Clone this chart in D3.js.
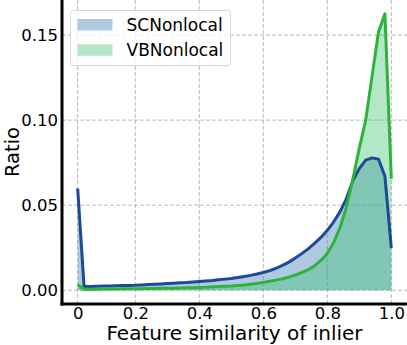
<!DOCTYPE html>
<html>
<head>
<meta charset="utf-8">
<script src="https://cdn.jsdelivr.net/npm/d3@7"></script>
<style>
  html, body { margin: 0; padding: 0; background: #fff; }
  svg { display: block; font-family: 'DejaVu Sans', sans-serif; }
</style>
</head>
<body>
<div id="chart"></div>
<script>
// 50 histogram bins, ticks sit on bin indices
const tickIndex = [0, 9, 19, 29, 39, 49]
const tickLabels = ['0', '0.2', '0.4', '0.6', '0.8', '1.0']
const yTicks = [0, 0.05, 0.10, 0.15]

const scNonlocal = [
  0.0598, 0.0021, 0.0022, 0.0023, 0.0024, 0.0025, 0.0026, 0.0027, 0.0028, 0.0029,
  0.0031, 0.0033, 0.0035, 0.0037, 0.0039, 0.0041, 0.0043, 0.0045, 0.0048, 0.0051,
  0.0054, 0.0057, 0.0061, 0.0065, 0.0069, 0.0074, 0.0080, 0.0087, 0.0095, 0.0104,
  0.0115, 0.0129, 0.0146, 0.0165, 0.0189, 0.0215, 0.0243, 0.0275, 0.0310, 0.0352,
  0.0402, 0.0462, 0.0540, 0.0645, 0.0715, 0.0765, 0.0778, 0.0770, 0.0670, 0.0248
]

const vbNonlocal = [
  0.0032, 0.0006, 0.0006, 0.0006, 0.0007, 0.0007, 0.0007, 0.0008, 0.0008, 0.0009,
  0.0009, 0.0010, 0.0010, 0.0011, 0.0011, 0.0012, 0.0013, 0.0014, 0.0015, 0.0016,
  0.0017, 0.0019, 0.0021, 0.0023, 0.0025, 0.0028, 0.0031, 0.0035, 0.0040, 0.0046,
  0.0052, 0.0059, 0.0067, 0.0077, 0.0089, 0.0104, 0.0120, 0.0143, 0.0175, 0.0215,
  0.0280, 0.0370, 0.0490, 0.0655, 0.0835, 0.1000, 0.1260, 0.1520, 0.1625, 0.0655
]

const series = [
  { name: 'SCNonlocal', values: scNonlocal, fill: '#3a76b2', line: '#1b4a9a' },
  { name: 'VBNonlocal', values: vbNonlocal, fill: '#3ec676', line: '#2eb33a' }
]

const width = 407
const height = 345
const margin = { left: 62, right: 0, top: 0, bottom: 41 }

const svg = d3.select('#chart').append('svg')
  .attr('width', width)
  .attr('height', height)

const n = scNonlocal.length
const xPad = (n - 1) * 0.05
const x = d3.scaleLinear()
  .domain([-xPad, n - 1 + xPad])
  .range([margin.left, width - margin.right])

const yMax = d3.max(series, s => d3.max(s.values))
const yPad = yMax * 0.05
const y = d3.scaleLinear()
  .domain([-yPad, yMax + yPad])
  .range([height - margin.bottom, margin.top])

// grid
const grid = svg.append('g').attr('class', 'grid')
grid.selectAll('line.vx')
  .data(tickIndex)
  .join('line')
  .attr('class', 'vx')
  .attr('x1', d => x(d)).attr('x2', d => x(d))
  .attr('y1', y.range()[0]).attr('y2', y.range()[1])
grid.selectAll('line.hy')
  .data(yTicks)
  .join('line')
  .attr('class', 'hy')
  .attr('x1', x.range()[0]).attr('x2', x.range()[1])
  .attr('y1', d => y(d)).attr('y2', d => y(d))
grid.selectAll('line')
  .attr('stroke', '#b9b9b9')
  .attr('stroke-width', 1)
  .attr('stroke-dasharray', '4,2')

// fills
series.forEach(s => {
  svg.append('path')
    .datum(s.values)
    .attr('fill', s.fill)
    .attr('fill-opacity', 0.4)
    .attr('d', d3.area().x((d, i) => x(i)).y0(y(0)).y1(d => y(d)))
})

// lines
series.forEach(s => {
  svg.append('path')
    .datum(s.values)
    .attr('fill', 'none')
    .attr('stroke', s.line)
    .attr('stroke-width', 3)
    .attr('stroke-linejoin', 'round')
    .attr('d', d3.line().x((d, i) => x(i)).y(d => y(d)))
})

// axes
svg.append('g')
  .attr('transform', `translate(0,${height - margin.bottom})`)
  .call(d3.axisBottom(x).tickValues(tickIndex).tickFormat((d, i) => tickLabels[i]).tickSize(0).tickPadding(3))
svg.append('g')
  .attr('transform', `translate(${margin.left},0)`)
  .call(d3.axisLeft(y).tickValues(yTicks).tickFormat(d3.format('.2f')).tickSize(0).tickPadding(4))

svg.selectAll('.tick text')
  .attr('font-family', 'DejaVu Sans, sans-serif')
  .attr('font-size', 16.5)
  .attr('fill', '#000')
svg.selectAll('.domain').remove()

// spines
svg.append('line')
  .attr('x1', margin.left).attr('x2', margin.left)
  .attr('y1', 0).attr('y2', height - margin.bottom + 1.5)
  .attr('stroke', '#000').attr('stroke-width', 3)
svg.append('line')
  .attr('x1', margin.left - 1.5).attr('x2', width)
  .attr('y1', height - margin.bottom).attr('y2', height - margin.bottom)
  .attr('stroke', '#000').attr('stroke-width', 3)

// axis titles
svg.append('text')
  .attr('x', (margin.left + width) / 2)
  .attr('y', 340)
  .attr('text-anchor', 'middle')
  .attr('font-size', 20)
  .text('Feature similarity of inlier')

svg.append('text')
  .attr('transform', `translate(18.5,${(height - margin.bottom) / 2}) rotate(-90)`)
  .attr('text-anchor', 'middle')
  .attr('font-size', 19.5)
  .text('Ratio')

// legend
const legend = svg.append('g').attr('transform', 'translate(70.5,10.5)')
legend.append('rect')
  .attr('width', 160)
  .attr('height', 55)
  .attr('rx', 3)
  .attr('fill', '#fff')
  .attr('fill-opacity', 0.8)
  .attr('stroke', '#d6d6d6')
  .attr('stroke-width', 1)

const item = legend.selectAll('g.item')
  .data(series)
  .join('g')
  .attr('class', 'item')
  .attr('transform', (d, i) => `translate(7,${8.5 + i * 25.3})`)

item.append('rect')
  .attr('width', 35)
  .attr('height', 11.5)
  .attr('fill', d => d.fill)
  .attr('fill-opacity', 0.4)

item.append('text')
  .attr('x', 49)
  .attr('y', 12)
  .attr('font-size', 17)
  .text(d => d.name)
</script>
</body>
</html>
